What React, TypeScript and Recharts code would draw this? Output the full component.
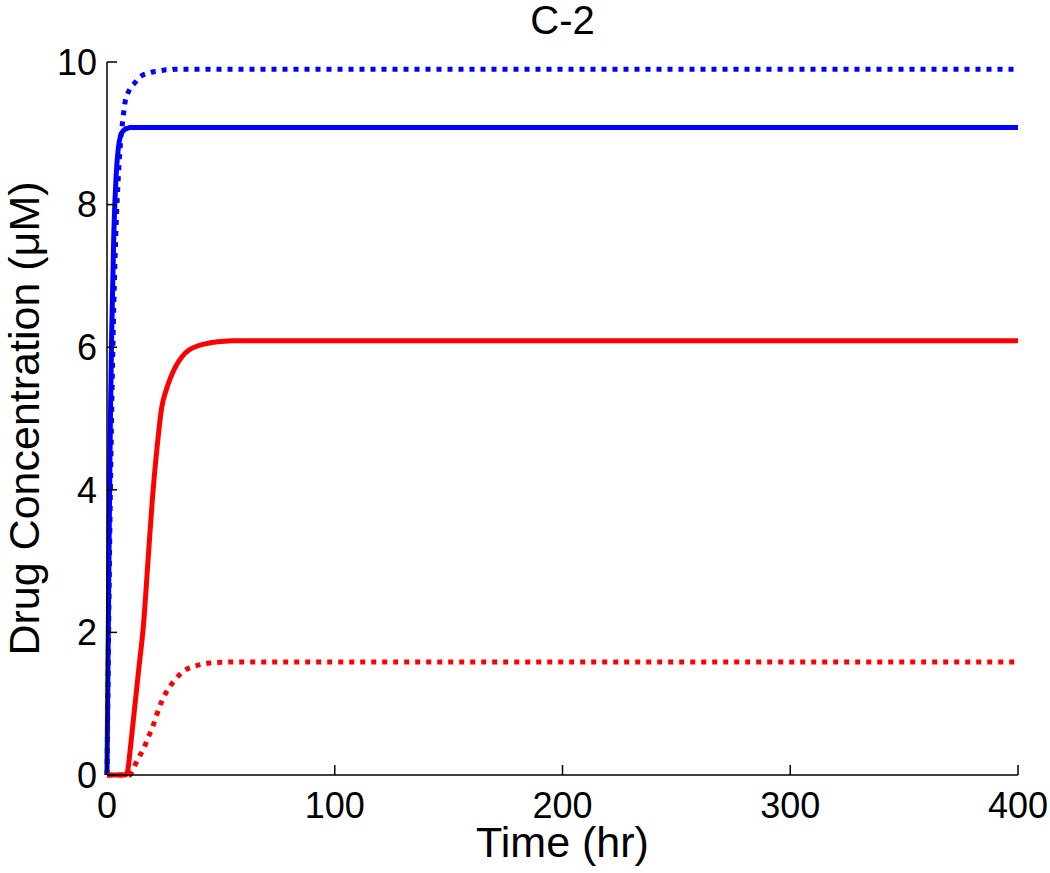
import { LineChart, Line, XAxis, YAxis } from 'recharts';

// time points (hr), denser where the curves rise
const hours = [0, 0.5, 1, 1.5, 2, 3, 4, 5, 6, 7, 8, 9, 10, 11, 12, 14, 16, 18, 20, 22, 24, 26, 28, 30, 33, 36, 40, 45, 50, 55, 60, 80, 100, 150, 200, 300, 400];

const blueSolid = [0, 1.8, 3.5, 5.0, 6.1, 7.6, 8.4, 8.8, 8.97, 9.03, 9.06, 9.07, 9.08, 9.08, 9.08, 9.08, 9.08, 9.08, 9.08, 9.08, 9.08, 9.08, 9.08, 9.08, 9.08, 9.08, 9.08, 9.08, 9.08, 9.08, 9.08, 9.08, 9.08, 9.08, 9.08, 9.08, 9.08];
const blueDotted = [0, 1.4, 2.8, 4.0, 5.0, 6.6, 7.7, 8.4, 8.9, 9.2, 9.45, 9.55, 9.62, 9.67, 9.7, 9.78, 9.82, 9.84, 9.86, 9.87, 9.88, 9.89, 9.89, 9.9, 9.9, 9.9, 9.9, 9.9, 9.9, 9.9, 9.9, 9.9, 9.9, 9.9, 9.9, 9.9, 9.9];
const redSolid = [0, 0, 0, 0, 0, 0, 0, 0, 0, 0, 0, 0.05, 0.3, 0.6, 0.9, 1.5, 2.1, 3.0, 3.9, 4.6, 5.15, 5.4, 5.58, 5.72, 5.87, 5.96, 6.02, 6.06, 6.08, 6.09, 6.09, 6.09, 6.09, 6.09, 6.09, 6.09, 6.09];
const redDotted = [0, 0, 0, 0, 0, 0, 0, 0, 0, 0, 0, 0, 0, 0.05, 0.12, 0.25, 0.36, 0.52, 0.67, 0.86, 1.03, 1.16, 1.26, 1.34, 1.44, 1.5, 1.54, 1.57, 1.58, 1.585, 1.585, 1.585, 1.585, 1.585, 1.585, 1.585, 1.585];

const xTicks = [0, 100, 200, 300, 400];
const yTicks = [0, 2, 4, 6, 8, 10];

const data = hours.map((t, i) => ({
  t,
  blueSolid: blueSolid[i],
  blueDotted: blueDotted[i],
  redSolid: redSolid[i],
  redDotted: redDotted[i],
}));

const font = '"Liberation Sans", Arial, Helvetica, sans-serif';
const tickStyle = { fontSize: 36, fill: '#000', fontFamily: font };

const YLabel = ({ viewBox }: any) => {
  const cx = 24;
  const cy = viewBox.y + viewBox.height / 2;
  return (
    <text
      x={cx}
      y={cy}
      transform={`rotate(-90 ${cx} ${cy})`}
      textAnchor="middle"
      dominantBaseline="central"
      fontSize={43}
      fontFamily={font}
      fill="#000"
    >
      Drug Concentration (μM)
    </text>
  );
};

const XLabel = ({ viewBox }: any) => {
  const cx = viewBox.x + viewBox.width / 2;
  return (
    <g>
      <text x={cx} y={857} textAnchor="middle" fontSize={43} fontFamily={font} fill="#000">
        Time (hr)
      </text>
      <text x={cx} y={34} textAnchor="middle" fontSize={40} fontFamily={font} fill="#000">
        C-2
      </text>
    </g>
  );
};

export default function App() {
  return (
    <div style={{ width: 1050, height: 873, background: '#fff' }}>
      <style>{'body{margin:0}'}</style>
      <LineChart width={1050} height={873} data={data} margin={{ top: 62, right: 32, bottom: 0, left: 0 }}>
        <XAxis
          dataKey="t"
          type="number"
          domain={[0, 400]}
          ticks={xTicks}
          interval={0}
          height={98}
          tickSize={-10}
          tickMargin={27}
          tick={tickStyle}
          axisLine={{ stroke: '#000', strokeWidth: 1.5 }}
          tickLine={{ stroke: '#000', strokeWidth: 1.5 }}
          label={<XLabel />}
        />
        <YAxis
          type="number"
          domain={[0, 10]}
          ticks={yTicks}
          interval={0}
          width={107}
          tickSize={-10}
          tickMargin={20}
          tick={tickStyle}
          axisLine={{ stroke: '#000', strokeWidth: 1.5 }}
          tickLine={{ stroke: '#000', strokeWidth: 1.5 }}
          label={<YLabel />}
        />
        <Line dataKey="blueDotted" type="monotone" stroke="#0000ff" strokeWidth={5} strokeDasharray="5 6" dot={false} isAnimationActive={false} />
        <Line dataKey="redDotted" type="monotone" stroke="#ff0000" strokeWidth={5} strokeDasharray="5 6" dot={false} isAnimationActive={false} />
        <Line dataKey="blueSolid" type="monotone" stroke="#0000ff" strokeWidth={5} dot={false} isAnimationActive={false} />
        <Line dataKey="redSolid" type="monotone" stroke="#ff0000" strokeWidth={5} dot={false} isAnimationActive={false} />
      </LineChart>
    </div>
  );
}
